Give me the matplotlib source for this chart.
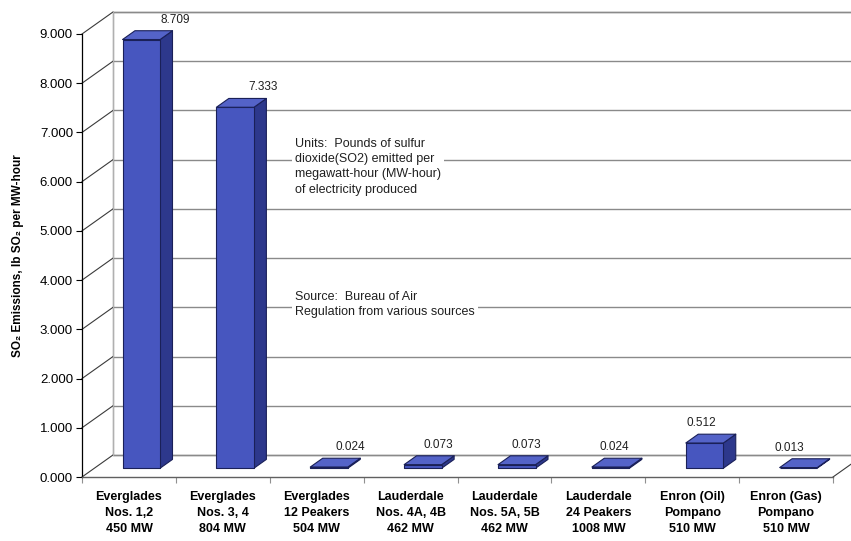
import matplotlib
matplotlib.use('Agg')
import matplotlib.pyplot as plt
from matplotlib.patches import Polygon

plt.rcParams['font.family'] = ['Liberation Sans', 'DejaVu Sans']

# SO2 emission rates by plant
plants = [
    'Everglades\nNos. 1,2\n450 MW',
    'Everglades\nNos. 3, 4\n804 MW',
    'Everglades\n12 Peakers\n504 MW',
    'Lauderdale\nNos. 4A, 4B\n462 MW',
    'Lauderdale\nNos. 5A, 5B\n462 MW',
    'Lauderdale\n24 Peakers\n1008 MW',
    'Enron (Oil)\nPompano\n510 MW',
    'Enron (Gas)\nPompano\n510 MW',
]
so2_rate = [8.709, 7.333, 0.024, 0.073, 0.073, 0.024, 0.512, 0.013]
y_ticks = [0, 1, 2, 3, 4, 5, 6, 7, 8, 9]

units_note = ('Units:  Pounds of sulfur\ndioxide(SO2) emitted per\n'
              'megawatt-hour (MW-hour)\nof electricity produced')
source_note = 'Source:  Bureau of Air\nRegulation from various sources'

# oblique "3-D" look: shift of the back wall in data units
DX, DY = 0.330, 0.447
BAR_W = 0.40          # bar width in category units
F0, F1 = 0.40, 0.80   # bar depth range as fraction of the floor depth
LABEL_PERSPECTIVE = 0.935

FRONT = '#4756bf'
SIDE = '#2d388c'
TOP = '#5463c8'
EDGE = '#1a2058'


def proj(x, y, f):
    return (x + f * DX, y + f * DY)


fig = plt.figure(figsize=(8.51, 5.41), dpi=100)
ax = fig.add_axes([82 / 851, 64 / 541, 751 / 851, 443 / 541])
n = len(plants)
ax.set_xlim(0, n)
ax.set_ylim(0, 9)

# back wall, left wall and floor
grid_c = '#8a8a8a'
ymax = y_ticks[-1]
wall = [proj(0, 0, 1), proj(n + 1, 0, 1), proj(n + 1, ymax, 1), proj(0, ymax, 1)]
ax.add_patch(Polygon(wall, closed=True, fc='white', ec=grid_c, lw=1.0,
                     clip_on=False, zorder=0))
for v in y_ticks:
    xa, ya = proj(0, v, 1)
    ax.plot([xa, n + 1], [ya, ya], color=grid_c, lw=1.0, clip_on=False, zorder=1)
    ax.plot([0, xa], [v, ya], color='#3a3a3a', lw=0.8, clip_on=False, zorder=1)
ax.plot([proj(0, 0, 1)[0]] * 2, [proj(0, 0, 1)[1], proj(0, ymax, 1)[1]],
        color='#b0b0b0', lw=0.8, clip_on=False, zorder=1)
xb, yb = proj(n, 0, 1)
ax.plot([n, xb], [0, yb], color='#3a3a3a', lw=0.8, clip_on=False, zorder=1)

# bars
for i, v in enumerate(so2_rate):
    x0 = i + 0.5 - BAR_W / 2
    x1 = i + 0.5 + BAR_W / 2
    front = [proj(x0, 0, F0), proj(x1, 0, F0), proj(x1, v, F0), proj(x0, v, F0)]
    side = [proj(x1, 0, F0), proj(x1, 0, F1), proj(x1, v, F1), proj(x1, v, F0)]
    top = [proj(x0, v, F0), proj(x1, v, F0), proj(x1, v, F1), proj(x0, v, F1)]
    for pts, c in [(side, SIDE), (front, FRONT), (top, TOP)]:
        ax.add_patch(Polygon(pts, closed=True, fc=c, ec=EDGE, lw=0.8,
                             joinstyle='round', clip_on=False, zorder=3))
    cx = n / 2 + LABEL_PERSPECTIVE * (i + 0.5 - n / 2)
    lx, ly = proj(cx, v, F1)
    ax.annotate(f'{v:.3f}', (lx, ly), xytext=(0, 8), textcoords='offset points',
                ha='center', va='center', fontsize=8.5, color='#202020',
                annotation_clip=False, zorder=4)

# notes on the back wall
box = dict(fc='white', ec='none', pad=2)
ax.text(2.27, 6.3, units_note, fontsize=9, color='#202020', va='center',
        ha='left', linespacing=1.35, bbox=box, zorder=2)
ax.text(2.27, 3.5, source_note, fontsize=9, color='#202020', va='center',
        ha='left', linespacing=1.35, bbox=box, zorder=2)

# axes
for s in ['top', 'right']:
    ax.spines[s].set_visible(False)
ax.spines['left'].set_color('black')
ax.spines['left'].set_linewidth(0.9)
ax.spines['bottom'].set_color('#606060')
ax.spines['bottom'].set_linewidth(1.0)
ax.spines['left'].set_zorder(2)
ax.spines['bottom'].set_zorder(2)
ax.patch.set_visible(False)

ax.set_yticks(y_ticks)
ax.set_yticklabels([f'{t:.3f}' for t in y_ticks], fontsize=9.5)
ax.tick_params(axis='y', direction='out', length=4.5, width=0.8, pad=2)

ax.set_xticks([i + 0.5 for i in range(n)])
ax.set_xticklabels(plants, fontsize=9, fontweight='bold', linespacing=1.45)
ax.set_xticks(range(n + 1), minor=True)
ax.tick_params(axis='x', which='major', length=0, pad=10)
ax.tick_params(axis='x', which='minor', direction='out', length=4.5,
               width=0.8, color='#909090')

ax.set_ylabel('SO₂ Emissions, lb SO₂ per MW-hour', fontsize=8.5,
              fontweight='bold', labelpad=11)

fig.savefig('out.png', dpi=100)
